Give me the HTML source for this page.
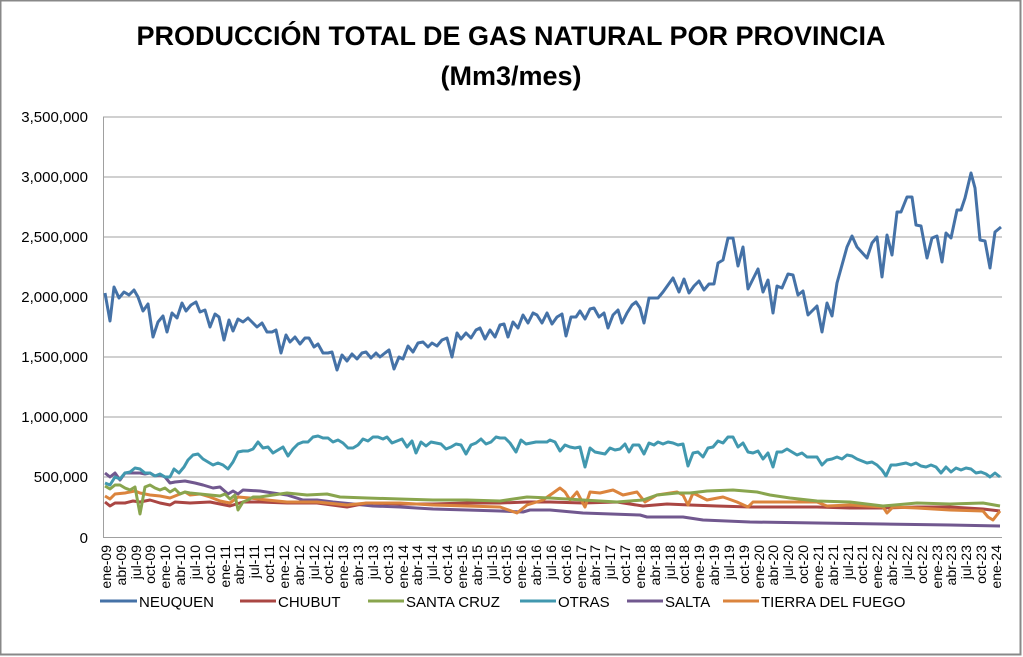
<!DOCTYPE html>
<html><head><meta charset="utf-8"><style>
body{margin:0;background:#fff}
svg{display:block;font-family:"Liberation Sans",sans-serif}
</style></head><body>
<svg width="1023" height="657" viewBox="0 0 1023 657">
<rect x="0.5" y="0.5" width="1020" height="654" fill="#fff" stroke="#888" stroke-width="2"/>
<text x="511" y="45" text-anchor="middle" font-size="27" font-weight="bold">PRODUCCIÓN TOTAL DE GAS NATURAL POR PROVINCIA</text>
<text x="511" y="85" text-anchor="middle" font-size="27" font-weight="bold">(Mm3/mes)</text>
<g stroke="#a0a0a0" stroke-width="1">
<line x1="103" y1="117" x2="1002" y2="117"/><line x1="103" y1="177" x2="1002" y2="177"/><line x1="103" y1="237" x2="1002" y2="237"/><line x1="103" y1="297" x2="1002" y2="297"/><line x1="103" y1="357" x2="1002" y2="357"/><line x1="103" y1="417" x2="1002" y2="417"/><line x1="103" y1="477" x2="1002" y2="477"/><line x1="103" y1="537.5" x2="1002" y2="537.5"/>
<line x1="103.5" y1="117" x2="103.5" y2="538"/>
</g>
<g font-size="15" text-anchor="end" fill="#000">
<text x="88" y="122">3,500,000</text><text x="88" y="182">3,000,000</text><text x="88" y="242">2,500,000</text><text x="88" y="302">2,000,000</text><text x="88" y="362">1,500,000</text><text x="88" y="422">1,000,000</text><text x="88" y="482">500,000</text><text x="88" y="543">0</text>
</g>
<g font-size="14" text-anchor="end">
<text transform="translate(111,545) rotate(-90)">ene-09</text>
<text transform="translate(126,545) rotate(-90)">abr-09</text>
<text transform="translate(141,545) rotate(-90)">jul-09</text>
<text transform="translate(155,545) rotate(-90)">oct-09</text>
<text transform="translate(170,545) rotate(-90)">ene-10</text>
<text transform="translate(185,545) rotate(-90)">abr-10</text>
<text transform="translate(200,545) rotate(-90)">jul-10</text>
<text transform="translate(215,545) rotate(-90)">oct-10</text>
<text transform="translate(230,545) rotate(-90)">ene-11</text>
<text transform="translate(244,545) rotate(-90)">abr-11</text>
<text transform="translate(259,545) rotate(-90)">jul-11</text>
<text transform="translate(274,545) rotate(-90)">oct-11</text>
<text transform="translate(289,545) rotate(-90)">ene-12</text>
<text transform="translate(304,545) rotate(-90)">abr-12</text>
<text transform="translate(319,545) rotate(-90)">jul-12</text>
<text transform="translate(333,545) rotate(-90)">oct-12</text>
<text transform="translate(348,545) rotate(-90)">ene-13</text>
<text transform="translate(363,545) rotate(-90)">abr-13</text>
<text transform="translate(378,545) rotate(-90)">jul-13</text>
<text transform="translate(393,545) rotate(-90)">oct-13</text>
<text transform="translate(408,545) rotate(-90)">ene-14</text>
<text transform="translate(422,545) rotate(-90)">abr-14</text>
<text transform="translate(437,545) rotate(-90)">jul-14</text>
<text transform="translate(452,545) rotate(-90)">oct-14</text>
<text transform="translate(467,545) rotate(-90)">ene-15</text>
<text transform="translate(482,545) rotate(-90)">abr-15</text>
<text transform="translate(497,545) rotate(-90)">jul-15</text>
<text transform="translate(511,545) rotate(-90)">oct-15</text>
<text transform="translate(526,545) rotate(-90)">ene-16</text>
<text transform="translate(541,545) rotate(-90)">abr-16</text>
<text transform="translate(556,545) rotate(-90)">jul-16</text>
<text transform="translate(571,545) rotate(-90)">oct-16</text>
<text transform="translate(586,545) rotate(-90)">ene-17</text>
<text transform="translate(600,545) rotate(-90)">abr-17</text>
<text transform="translate(615,545) rotate(-90)">jul-17</text>
<text transform="translate(630,545) rotate(-90)">oct-17</text>
<text transform="translate(645,545) rotate(-90)">ene-18</text>
<text transform="translate(660,545) rotate(-90)">abr-18</text>
<text transform="translate(675,545) rotate(-90)">jul-18</text>
<text transform="translate(689,545) rotate(-90)">oct-18</text>
<text transform="translate(704,545) rotate(-90)">ene-19</text>
<text transform="translate(719,545) rotate(-90)">abr-19</text>
<text transform="translate(734,545) rotate(-90)">jul-19</text>
<text transform="translate(749,545) rotate(-90)">oct-19</text>
<text transform="translate(764,545) rotate(-90)">ene-20</text>
<text transform="translate(778,545) rotate(-90)">abr-20</text>
<text transform="translate(793,545) rotate(-90)">jul-20</text>
<text transform="translate(808,545) rotate(-90)">oct-20</text>
<text transform="translate(823,545) rotate(-90)">ene-21</text>
<text transform="translate(838,545) rotate(-90)">abr-21</text>
<text transform="translate(853,545) rotate(-90)">jul-21</text>
<text transform="translate(867,545) rotate(-90)">oct-21</text>
<text transform="translate(882,545) rotate(-90)">ene-22</text>
<text transform="translate(897,545) rotate(-90)">abr-22</text>
<text transform="translate(912,545) rotate(-90)">jul-22</text>
<text transform="translate(927,545) rotate(-90)">oct-22</text>
<text transform="translate(942,545) rotate(-90)">ene-23</text>
<text transform="translate(956,545) rotate(-90)">abr-23</text>
<text transform="translate(971,545) rotate(-90)">jul-23</text>
<text transform="translate(986,545) rotate(-90)">oct-23</text>
<text transform="translate(1001,545) rotate(-90)">ene-24</text>
</g>
<g fill="none" stroke-width="3" stroke-linejoin="round">
<polyline stroke="#71588F" points="105,473 110,477 115,473 120,480 125,473 130,473 140,473 145,474 150,473 155,476 160,475 165,477 170,483 175,482 185,481 195,483 203,485 213,488 220,487 228,494 233,491 238,494 243,490 260,491 273,493 287,495 303,500 317,500 333,502 353,504 373,506 400,507 433,509 467,510 500,511 523,512 530,510 550,510 583,513 640,515 647,517 683,517 703,520 750,522 817,523 883,524 950,525 1000,526"/>
<polyline stroke="#AA4643" points="105,502 110,506 115,503 125,503 133,501 140,502 150,500 160,503 170,505 175,502 190,503 210,502 230,506 243,502 260,502 287,503 317,503 347,507 367,503 400,504 433,504 467,503 500,503 527,502 550,502 583,503 617,502 643,506 667,504 690,505 717,506 750,507 783,507 817,507 850,508 883,508 917,507 950,507 983,509 1000,511"/>
<polyline stroke="#DB843D" points="105,496 110,499 115,494 125,493 135,491 140,493 145,494 150,495 160,496 170,498 175,496 185,492 190,495 200,494 210,497 220,501 230,503 238,497 250,498 267,500 287,502 317,502 347,505 367,503 400,503 433,505 467,506 500,507 517,513 527,505 543,500 553,493 560,488 565,492 570,500 577,492 585,507 590,492 600,493 613,490 623,495 637,492 645,502 657,495 677,492 683,495 688,505 693,493 707,500 723,497 737,502 748,507 753,502 783,502 817,502 827,506 850,505 883,507 887,513 893,507 917,508 950,510 983,511 988,517 993,520 1000,511"/>
<polyline stroke="#89A54E" points="105,486 110,489 115,485 120,485 125,488 130,490 135,487 140,514 145,487 150,485 155,488 160,490 165,488 170,492 175,489 180,494 185,492 190,493 200,494 210,495 220,496 225,494 230,499 235,495 238,510 243,502 248,500 253,497 260,497 273,495 287,493 307,495 327,494 340,497 367,498 400,499 433,500 467,500 500,501 527,497 550,498 583,500 617,502 643,500 657,495 677,493 690,493 707,491 733,490 757,492 770,495 790,498 817,501 850,502 883,506 917,503 950,504 983,503 1000,506"/>
<polyline stroke="#4198AF" points="105,483 110,485 115,477 120,479 125,473 130,472 135,468 140,469 145,473 150,473 155,476 160,474 165,477 170,477 174,469 179,473 184,467 188,460 193,455 198,454 203,459 208,462 213,465 218,463 223,465 228,469 233,462 238,452 243,451 248,451 253,449 258,442 263,448 268,447 273,453 278,450 283,447 288,456 293,449 298,444 303,442 308,442 313,437 318,436 323,438 328,438 333,442 338,440 343,443 348,448 353,448 358,445 363,439 368,441 373,437 378,437 383,439 387,437 392,443 397,441 402,439 407,447 412,441 416,453 421,442 426,446 431,442 436,443 441,444 446,449 451,447 456,444 461,445 466,454 471,445 476,443 481,439 486,444 491,442 496,437 500,438 505,438 510,443 516,452 521,440 526,444 531,443 536,442 541,442 547,442 550,440 555,442 560,451 565,445 570,447 575,448 580,447 585,467 590,448 595,452 600,453 605,454 610,448 615,450 620,449 625,444 629,452 633,445 639,445 644,454 649,443 654,445 658,442 663,444 668,442 673,443 678,445 683,444 688,466 693,453 698,452 703,457 708,448 713,447 718,441 723,443 728,437 733,437 738,447 743,443 748,452 753,453 758,451 763,459 768,453 773,467 777,452 782,452 787,449 792,452 797,455 802,453 807,457 812,457 817,457 822,465 827,460 832,459 837,457 842,459 847,455 852,456 857,459 862,461 867,463 872,462 877,465 882,470 886,476 891,465 896,465 901,464 906,463 911,465 916,463 921,466 926,467 931,465 936,467 941,473 946,467 951,472 956,468 961,470 966,468 971,469 976,473 981,472 986,474 990,477 995,473 1000,477"/>
<polyline stroke="#4572A7" points="105,293 110,321 114,287 119,298 124,292 129,295 134,290 138,297 143,311 148,304 153,337 158,322 163,316 167,332 172,313 177,318 182,303 186,311 191,305 196,302 200,312 205,310 210,327 215,314 219,317 224,340 229,320 233,331 238,319 243,322 248,318 253,323 257,327 262,323 267,332 272,332 276,330 281,353 286,335 290,342 295,337 300,344 305,338 309,338 314,347 318,344 323,353 328,353 332,352 337,370 342,355 347,361 352,354 357,359 362,353 366,352 371,358 376,353 380,357 385,353 389,350 394,369 399,357 403,359 408,346 413,352 418,343 423,342 428,347 432,343 437,346 442,340 447,338 452,357 457,333 461,339 466,333 471,338 476,330 480,328 485,339 490,330 495,337 500,325 504,324 508,337 513,322 518,328 523,315 528,323 533,313 537,315 542,323 547,313 552,324 557,317 562,314 566,336 571,317 576,317 580,311 585,319 590,309 594,308 599,317 604,313 608,328 613,315 618,310 622,323 627,313 632,305 636,302 640,308 644,323 649,298 658,298 663,292 673,278 679,292 684,279 689,293 694,286 699,281 704,290 709,284 714,284 718,263 723,260 728,238 733,238 738,266 743,247 748,289 758,269 763,292 768,280 773,313 777,286 782,288 788,274 793,275 798,295 803,291 808,315 817,306 822,332 827,303 832,316 837,283 847,247 852,236 857,247 867,258 872,243 877,237 882,277 887,235 892,255 897,212 901,212 907,197 912,197 916,225 921,226 927,258 932,238 937,236 942,262 946,233 951,238 957,210 961,210 965,198 971,173 975,188 980,240 985,241 990,268 995,232 1001,227"/>
</g>
<g font-size="15">
<line x1="100" y1="601" x2="137" y2="601" stroke="#4572A7" stroke-width="3"/><text x="139" y="607">NEUQUEN</text>
<line x1="240" y1="601" x2="276" y2="601" stroke="#AA4643" stroke-width="3"/><text x="278" y="607">CHUBUT</text>
<line x1="368" y1="601" x2="404" y2="601" stroke="#89A54E" stroke-width="3"/><text x="406" y="607">SANTA CRUZ</text>
<line x1="520" y1="601" x2="556" y2="601" stroke="#4198AF" stroke-width="3"/><text x="558" y="607">OTRAS</text>
<line x1="627" y1="601" x2="663" y2="601" stroke="#71588F" stroke-width="3"/><text x="665" y="607">SALTA</text>
<line x1="723" y1="601" x2="759" y2="601" stroke="#DB843D" stroke-width="3"/><text x="761" y="607">TIERRA DEL FUEGO</text>
</g>
</svg>
</body></html>
